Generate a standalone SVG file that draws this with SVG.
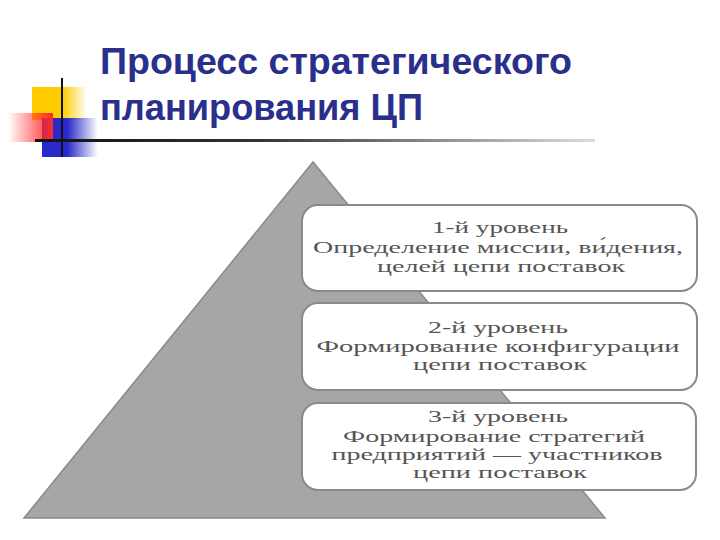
<svg xmlns="http://www.w3.org/2000/svg" width="720" height="540" viewBox="0 0 720 540">
  <defs>
    <linearGradient id="gYellow" x1="0" y1="0" x2="1" y2="0">
      <stop offset="0" stop-color="#FFCC00"/>
      <stop offset="0.55" stop-color="#FFCC00"/>
      <stop offset="1" stop-color="#FFCC00" stop-opacity="0"/>
    </linearGradient>
    <linearGradient id="gRed" x1="1" y1="0" x2="0" y2="0">
      <stop offset="0" stop-color="#FF2A2A"/>
      <stop offset="1" stop-color="#FF2A2A" stop-opacity="0"/>
    </linearGradient>
    <linearGradient id="gBlue" x1="0" y1="0" x2="1" y2="0">
      <stop offset="0" stop-color="#2A2ACC"/>
      <stop offset="0.45" stop-color="#2A2ACC"/>
      <stop offset="1" stop-color="#2A2ACC" stop-opacity="0"/>
    </linearGradient>
    <linearGradient id="gLine" x1="0" y1="0" x2="1" y2="0">
      <stop offset="0" stop-color="#111111"/>
      <stop offset="0.4" stop-color="#333333"/>
      <stop offset="1" stop-color="#dddddd"/>
    </linearGradient>
    <style>
      .title { font-family: "Liberation Sans", Arial, sans-serif; font-weight: bold; font-size: 36px; fill: #2B2F8C; }
      .box { fill: #ffffff; stroke: #8a8a8a; stroke-width: 2; }
      .lbl { font-family: "Liberation Serif", "Times New Roman", serif; font-size: 16px; fill: #555555; text-anchor: middle; }
    </style>
  </defs>

  <g id="decor">
    <rect x="32" y="87" width="55" height="33" fill="url(#gYellow)"/>
    <rect x="42" y="118" width="56" height="39" fill="url(#gBlue)"/>
    <rect x="8" y="113" width="45" height="29" fill="url(#gRed)"/>
    <line x1="62" y1="78" x2="62" y2="157" stroke="#111" stroke-width="2"/>
    <rect x="35" y="139" width="560" height="3" fill="url(#gLine)"/>
  </g>

  <g id="title">
    <text class="title" x="100" y="74" textLength="472" lengthAdjust="spacingAndGlyphs">Процесс стратегического</text>
    <text class="title" x="100" y="120" textLength="323" lengthAdjust="spacingAndGlyphs">планирования ЦП</text>
  </g>

  <g id="pyramid">
    <polygon points="313,162 24,518 605,518" fill="#a6a6a6" stroke="#8a8a8a" stroke-width="1.5"/>
  </g>

  <g id="level1">
    <rect class="box" x="302" y="205" width="395" height="86" rx="16"/>
    <text class="lbl" x="500" y="233" textLength="136" lengthAdjust="spacingAndGlyphs">1-й уровень</text>
    <text class="lbl" x="498" y="253" textLength="370" lengthAdjust="spacingAndGlyphs">Определение миссии, ви́дения,</text>
    <text class="lbl" x="501" y="272" textLength="248" lengthAdjust="spacingAndGlyphs">целей цепи поставок</text>
  </g>

  <g id="level2">
    <rect class="box" x="302" y="303" width="395" height="87" rx="16"/>
    <text class="lbl" x="498" y="333" textLength="140" lengthAdjust="spacingAndGlyphs">2-й уровень</text>
    <text class="lbl" x="498" y="352" textLength="363" lengthAdjust="spacingAndGlyphs">Формирование конфигурации</text>
    <text class="lbl" x="500" y="370" textLength="174" lengthAdjust="spacingAndGlyphs">цепи поставок</text>
  </g>

  <g id="level3">
    <rect class="box" x="302" y="403" width="394" height="87" rx="16"/>
    <text class="lbl" x="498" y="422" textLength="140" lengthAdjust="spacingAndGlyphs">3-й уровень</text>
    <text class="lbl" x="494" y="442" textLength="302" lengthAdjust="spacingAndGlyphs">Формирование стратегий</text>
    <text class="lbl" x="497" y="460" textLength="331" lengthAdjust="spacingAndGlyphs">предприятий — участников</text>
    <text class="lbl" x="500" y="478" textLength="174" lengthAdjust="spacingAndGlyphs">цепи поставок</text>
  </g>

  <g id="connectors"></g>
</svg>
